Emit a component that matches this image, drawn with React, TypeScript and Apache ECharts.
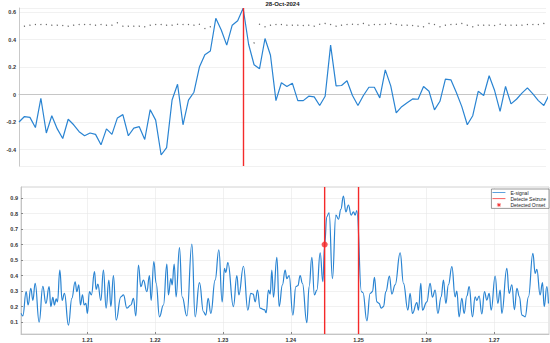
import React, { useEffect, useRef } from "react";
import * as echarts from "echarts";

// ---------- Top panel (index based) ----------
const topSignal = [
  -0.2, -0.16, -0.166, -0.24, -0.027, -0.28, -0.154, -0.25, -0.32, -0.18,
  -0.22, -0.27, -0.3, -0.28, -0.29, -0.366, -0.25, -0.29, -0.17, -0.146,
  -0.3, -0.244, -0.234, -0.327, -0.11, -0.186, -0.44, -0.386, -0.04, 0.075,
  -0.22, -0.04, 0.017, 0.2, 0.29, 0.317, 0.555, 0.47, 0.36, 0.505,
  0.537, 0.628, 0.366, 0.217, 0.188, 0.408, 0.286, -0.044, 0.086, 0.059,
  0.083, -0.044, -0.044, -0.012, -0.017, -0.08, -0.012, 0.36, 0.063, 0.066,
  0.1, -0.007, -0.08, -0.007, 0.053, 0.053, -0.024, 0.18, 0.063, -0.134,
  -0.088, -0.059, -0.032, -0.034, 0.059, 0.024, -0.112, -0.049, 0.112, 0.107,
  0.015, -0.088, -0.22, -0.154, 0.024, -0.007, 0.137, 0.029, -0.122, 0.059,
  -0.068, -0.034, 0.01, 0.049, 0.005, -0.044, -0.08, 0.0,
];
const topDots: (number | null)[] = [
  null, 0.498, 0.505, 0.51, 0.51, 0.51, 0.505, 0.505, 0.503, 0.498,
  0.505, 0.51, 0.51, 0.51, 0.505, 0.51, 0.505, 0.505, 0.522, 0.498,
  0.498, 0.498, 0.498, 0.493, 0.505, 0.51, 0.51, 0.505, 0.505, 0.512,
  0.51, 0.51, 0.505, 0.512, 0.481, 0.493, null, null, null, null,
  null, null, null, 0.376, 0.512, 0.493, 0.505, 0.51, 0.51, 0.505,
  0.505, 0.505, 0.503, 0.505, 0.498, 0.512, 0.518, 0.51, 0.498, 0.505,
  0.51, 0.512, 0.51, 0.518, 0.505, 0.51, 0.51, 0.512, 0.518, 0.51,
  0.505, 0.505, 0.503, 0.498, 0.493, 0.518, 0.51, 0.493, 0.505, 0.51,
  0.512, 0.518, 0.505, 0.493, 0.505, 0.505, 0.505, 0.503, 0.512, 0.505,
  0.505, 0.505, 0.505, 0.51, 0.51, 0.51, 0.518,
];
const topMarkIndex = 41;
const topYTicks = [-0.4, -0.2, 0, 0.2, 0.4, 0.6];

// ---------- Bottom panel (time based) ----------
const eTime = [
  1.20022, 1.20047, 1.20096, 1.20125, 1.20165, 1.20195, 1.20229, 1.20288, 1.20342, 1.20387,
  1.20435, 1.2046, 1.2049, 1.20513, 1.20539, 1.20558, 1.20593, 1.20627, 1.20661, 1.2072,
  1.2077, 1.20819, 1.20844, 1.20873, 1.20897, 1.20927, 1.20952, 1.20977, 1.21, 1.2103,
  1.21059, 1.21104, 1.21129, 1.21154, 1.21198, 1.21236, 1.21276, 1.21316, 1.21346, 1.21384,
  1.21424, 1.21493, 1.21532, 1.21582, 1.21641, 1.21679, 1.21714, 1.21753, 1.21788, 1.21827,
  1.21877, 1.21915, 1.2194, 1.2198, 1.22014, 1.22063, 1.22122, 1.22172, 1.22195, 1.22231,
  1.2225, 1.2228, 1.22309, 1.22358, 1.22398, 1.22467, 1.22541, 1.22589, 1.22653, 1.22712,
  1.22747, 1.22781, 1.22821, 1.22884, 1.22939, 1.22988, 1.23022, 1.23042, 1.23072, 1.23154,
  1.23205, 1.23234, 1.23302, 1.23367, 1.23411, 1.23445, 1.23475, 1.23509, 1.23548, 1.23612,
  1.23637, 1.23671, 1.23696, 1.23721, 1.23745, 1.23795, 1.23829, 1.23877, 1.23917, 1.23942,
  1.23976, 1.24031, 1.24075, 1.24105, 1.24138, 1.24172, 1.24237, 1.24271, 1.24311, 1.24349,
  1.24385, 1.24434, 1.24473, 1.245, 1.24532, 1.24566, 1.24615, 1.24665, 1.24704, 1.24739,
  1.24777, 1.24813, 1.24851, 1.24891, 1.24925, 1.2495, 1.24975,
  1.25043, 1.25065, 1.25123, 1.25171, 1.25205, 1.25235, 1.2527, 1.25304, 1.25334, 1.25368,
  1.25403, 1.25456, 1.25491, 1.2554, 1.25614, 1.25663, 1.25728, 1.25761, 1.25795, 1.2586,
  1.25884, 1.25919, 1.25943, 1.26008, 1.26056, 1.2609, 1.2613, 1.2617, 1.26219, 1.26253,
  1.26288, 1.26326, 1.26377, 1.26425, 1.2645, 1.26484, 1.26524, 1.26558, 1.26598, 1.26632,
  1.26681, 1.2672, 1.26745, 1.26779, 1.26819, 1.26858, 1.26893, 1.26927, 1.26957, 1.27016,
  1.27055, 1.27089, 1.27114, 1.27188, 1.27222, 1.27262, 1.273, 1.27336, 1.27374, 1.2741,
  1.27458, 1.27507, 1.27572, 1.27606, 1.27631, 1.27679, 1.27714, 1.27739, 1.27778, 1.27802,
];
const eValue = [
  0.156, 0.14, 0.296, 0.21, 0.318, 0.24, 0.35, 0.1, 0.33, 0.22,
  0.328, 0.2, 0.26, 0.21, 0.25, 0.23, 0.435, 0.24, 0.285, 0.08,
  0.253, 0.36, 0.296, 0.34, 0.21, 0.275, 0.21, 0.22, 0.156, 0.296,
  0.275, 0.425, 0.31, 0.345, 0.24, 0.435, 0.19, 0.37, 0.2, 0.4,
  0.113, 0.263, 0.275, 0.19, 0.21, 0.253, 0.14, 0.468, 0.328, 0.37,
  0.296, 0.4, 0.24, 0.49, 0.35, 0.134, 0.21, 0.474, 0.275, 0.38,
  0.34, 0.474, 0.263, 0.58, 0.263, 0.139, 0.603, 0.134, 0.354, 0.166,
  0.145, 0.253, 0.156, 0.37, 0.565, 0.23, 0.446, 0.42, 0.483, 0.2,
  0.4, 0.275, 0.46, 0.177, 0.285, 0.28, 0.23, 0.306, 0.19, 0.18,
  0.16, 0.306, 0.28, 0.435, 0.26, 0.517, 0.2, 0.34, 0.435, 0.38,
  0.4, 0.145, 0.328, 0.335, 0.4, 0.35, 0.096, 0.328, 0.517, 0.275,
  0.306, 0.547, 0.36, 0.6, 0.78, 0.805, 0.38, 0.79, 0.763, 0.827,
  0.913, 0.81, 0.855, 0.79, 0.81, 0.79, 0.818,
  0.296, 0.29, 0.108, 0.285, 0.296, 0.388, 0.23, 0.22, 0.19, 0.2,
  0.296, 0.397, 0.28, 0.34, 0.547, 0.35, 0.177, 0.285, 0.156, 0.225,
  0.177, 0.35, 0.177, 0.23, 0.35, 0.26, 0.306, 0.156, 0.263, 0.37,
  0.22, 0.34, 0.457, 0.263, 0.3, 0.134, 0.253, 0.156, 0.268, 0.328,
  0.134, 0.263, 0.24, 0.268, 0.152, 0.296, 0.242, 0.285, 0.177, 0.397,
  0.22, 0.306, 0.156, 0.446, 0.285, 0.34, 0.18, 0.318, 0.263, 0.145,
  0.134, 0.263, 0.543, 0.414, 0.44, 0.275, 0.354, 0.2, 0.328, 0.22,
];
const seizureTimes = [1.245, 1.25];
const onsetTime = [1.245];
const onsetValue = [0.6];

const bottomYMin = 0.023;
const bottomYMax = 0.971;

const titleText = "28-Oct-2024";
const legendNames = ["E-signal", "Detecte Seizure", "Detected Onset"];

const BLUE = "#2a84d2";
const RED = "#f42a2a";
const FONT = "'Liberation Sans', Arial, sans-serif";
const ASTERISK =
  "path://M5,0L5,10M0,5L10,5M1.5,1.5L8.5,8.5M8.5,1.5L1.5,8.5";
const THIN_LINE = "path://M0,0h24v1.4h-24z";

export default function App() {
  const ref = useRef<HTMLDivElement>(null);
  useEffect(() => {
    document.body.style.margin = "0";
    if (!ref.current) return;
    const chart = echarts.init(ref.current, undefined, { renderer: "svg" });

    const topLine = topSignal.map((v, i) => [i, v]);
    const dots: number[][] = [];
    topDots.forEach((v, i) => {
      if (v !== null) dots.push([i, v]);
    });
    const n = Math.min(eTime.length, eValue.length);
    const eData = [] as number[][];
    for (let i = 0; i < n; i++) eData.push([eTime[i], eValue[i]]);
    const onset = onsetTime.map((t, i) => [t, onsetValue[i]]);

    const labelStyle = {
      fontSize: 5.5,
      fontWeight: "bold" as const,
      color: "#333",
      fontFamily: FONT,
    };
    const gridLine = { show: true, lineStyle: { color: "#e8e8e8", width: 0.6 } };

    const seizureSeries = seizureTimes.map((t) => ({
      name: legendNames[1],
      type: "line",
      xAxisIndex: 1,
      yAxisIndex: 1,
      data: [
        [t, bottomYMin],
        [t, bottomYMax],
      ],
      symbol: "none",
      lineStyle: { color: RED, width: 1.4 },
      itemStyle: { color: RED },
      silent: true,
      z: 3,
    }));

    chart.setOption({
      animation: false,
      backgroundColor: "#fff",
      title: {
        text: titleText,
        left: 282.5,
        top: 1,
        padding: 0,
        textAlign: "center",
        textStyle: { fontSize: 6, fontWeight: "bold", color: "#222", fontFamily: FONT },
      },
      legend: {
        data: [
          { name: legendNames[0], icon: THIN_LINE, itemStyle: { color: BLUE } },
          { name: legendNames[1], icon: THIN_LINE, itemStyle: { color: RED } },
          {
            name: legendNames[2],
            icon: ASTERISK,
            itemStyle: { color: RED, borderColor: RED, borderWidth: 1 },
          },
        ],
        orient: "vertical",
        right: 1,
        top: 189,
        padding: [1, 3, 1, 1],
        itemGap: 1.2,
        itemWidth: 13,
        itemHeight: 4,
        symbolKeepAspect: true,
        backgroundColor: "#fff",
        borderColor: "#555",
        borderWidth: 0.6,
        borderRadius: 0,
        textStyle: { fontSize: 5, color: "#222", fontFamily: FONT },
      },
      grid: [
        { left: 19, right: 4, top: 8, height: 158 },
        {
          left: 21,
          right: 1,
          top: 187,
          height: 147,
          show: true,
          borderColor: "#c8c8c8",
          borderWidth: 0.8,
        },
      ],
      xAxis: [
        {
          type: "value",
          gridIndex: 0,
          min: 0,
          max: 96.4,
          axisLine: { show: true, lineStyle: { color: "#bbb", width: 0.8 } },
          axisTick: { show: false },
          axisLabel: { show: false },
          splitLine: { show: false },
        },
        {
          type: "value",
          gridIndex: 1,
          min: 1.2002,
          max: 1.2781,
          minInterval: 0.01,
          maxInterval: 0.01,
          axisLine: { show: true, lineStyle: { color: "#bbb", width: 0.8 } },
          axisTick: { show: true, inside: true, length: 2, lineStyle: { color: "#888" } },
          axisLabel: {
            ...labelStyle,
            margin: 3,
            showMinLabel: false,
            showMaxLabel: false,
            formatter: (v: number) => v.toFixed(2),
          },
          splitLine: gridLine,
        },
      ],
      yAxis: [
        {
          type: "value",
          gridIndex: 0,
          min: -0.52,
          max: 0.63,
          minInterval: 0.2,
          maxInterval: 0.2,
          axisLine: { show: true, lineStyle: { color: "#bbb", width: 0.8 } },
          axisTick: { show: false },
          axisLabel: {
            ...labelStyle,
            margin: 3,
            customValues: topYTicks,
            formatter: (v: number) => (Math.abs(v) < 1e-9 ? "0" : v.toFixed(1)),
          },
          splitLine: gridLine,
        },
        {
          type: "value",
          gridIndex: 1,
          min: bottomYMin,
          max: bottomYMax,
          minInterval: 0.1,
          maxInterval: 0.1,
          axisLine: { show: true, lineStyle: { color: "#bbb", width: 0.8 } },
          axisTick: { show: true, inside: true, length: 2, lineStyle: { color: "#888" } },
          axisLabel: {
            ...labelStyle,
            margin: 3,
            showMinLabel: false,
            showMaxLabel: false,
            formatter: (v: number) => v.toFixed(1),
          },
          splitLine: gridLine,
        },
      ],
      series: [
        {
          type: "line",
          xAxisIndex: 0,
          yAxisIndex: 0,
          data: topLine,
          symbol: "none",
          lineStyle: { color: BLUE, width: 1.2 },
          itemStyle: { color: BLUE },
          silent: true,
          markLine: {
            silent: true,
            symbol: "none",
            label: { show: false },
            lineStyle: { color: RED, width: 1.4, type: "solid" },
            data: [{ xAxis: topMarkIndex }],
          },
        },
        {
          type: "scatter",
          xAxisIndex: 0,
          yAxisIndex: 0,
          data: dots,
          symbol: "circle",
          symbolSize: 1.3,
          itemStyle: { color: "#444" },
          silent: true,
        },
        {
          name: legendNames[0],
          type: "line",
          xAxisIndex: 1,
          yAxisIndex: 1,
          data: eData,
          symbol: "none",
          smooth: 0.45,
          smoothMonotone: "x",
          lineStyle: { color: BLUE, width: 1.2 },
          itemStyle: { color: BLUE },
          silent: true,
          z: 2,
        },
        ...seizureSeries,
        {
          name: legendNames[2],
          type: "scatter",
          xAxisIndex: 1,
          yAxisIndex: 1,
          data: onset,
          symbol: ASTERISK,
          symbolSize: 6,
          itemStyle: { color: RED, borderColor: RED, borderWidth: 2 },
          z: 5,
        },
      ],
    });
    return () => chart.dispose();
  }, []);
  return <div ref={ref} style={{ width: 550, height: 343 }} />;
}
